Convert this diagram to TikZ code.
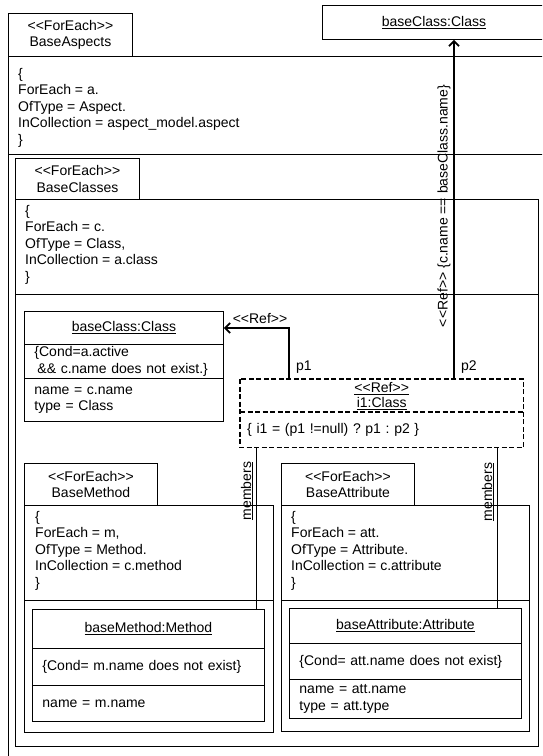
\documentclass[tikz,border=0pt]{standalone}
\usepackage{fontspec}
\setmainfont{Liberation Sans}
\usetikzlibrary{arrows.meta}
% guillemets are avoided: the kern keeps the two angle brackets apart
\newcommand\stereo[1]{<\kern0pt<#1>\kern0pt>}
\frenchspacing

\begin{document}
\begin{tikzpicture}[x=1pt,y=-1pt,
  txt/.style={font=\fontsize{14}{16.5}\selectfont, inner sep=0pt},
  box/.style={draw, line width=0.9pt, rectangle, inner sep=0pt, anchor=north west, txt},
  hdr/.style={box, align=center},
  cmp/.style={box, align=left, inner xsep=10pt},
  blk/.style={txt, align=left, anchor=north west},
  slot/.style={rectangle, inner sep=0pt, anchor=north west, txt},
  dline/.style={line width=1.8pt, dash pattern=on 5pt off 2.5pt},
  refarrow/.style={line width=1.8pt, -{Straight Barb[length=5pt,width=10pt]}},
  link/.style={line width=0.9pt},
  frame/.style={line width=0.9pt},
]
\useasboundingbox (0,0) rectangle (542,756);
\begin{scope}
\clip (0,0) rectangle (542,756);

% outer ForEach frame: BaseAspects
\node[hdr, minimum width=124pt, minimum height=43pt] (aspTab) at (8,13) {\stereo{ForEach}\\BaseAspects};
\draw[frame] (8,56) rectangle (600,800);
\draw[frame] (8,154) -- (600,154);
\node[blk] (aspText) at (18,68) {\{\\ForEach = a.\\OfType = Aspect.\\InCollection = aspect\_model.aspect\\\}};

% BaseClasses
\node[hdr, minimum width=124pt, minimum height=41pt] (clsTab) at (15,158) {\stereo{ForEach}\\BaseClasses};
\draw[frame] (15,199) rectangle (538,746);
\draw[frame] (15,294) -- (538,294);
\node[blk] (clsText) at (25,205) {\{\\ForEach = c.\\OfType = Class,\\InCollection = a.class\\\}};

% baseClass:Class object
\node[hdr, minimum width=199pt, minimum height=33pt] (bcHead) at (24,311) {\underline{baseClass:Class}};
\node[cmp, text width=179pt, minimum height=34pt] (bcCond) at (24,344) {\{Cond=a.active\\\hspace*{3pt}\&\& c.name does not exist.\}};
\node[cmp, text width=179pt, minimum height=43pt] (bcAttr) at (24,378) {name = c.name\\type = Class};

% i1 reference object (dashed outline)
\node[slot, align=center, minimum width=283pt, minimum height=33pt, font=\fontsize{14}{15}\selectfont] (i1Head) at (240,379) {\underline{\stereo{Ref}}\\\underline{i1:Class}};
\node[slot, align=left, inner xsep=7pt, text width=269pt, minimum height=35pt] (i1Body) at (240,412) {\{ i1 = (p1 !=null) ? p1 : p2 \}};
\draw[dline] (i1Head.north west) rectangle (i1Body.south east);
\draw[dline] (i1Body.north west) -- (i1Body.north east);

% BaseMethod
\node[hdr, minimum width=133pt, minimum height=42pt] (mTab) at (24,463) {\stereo{ForEach}\\BaseMethod};
\draw[frame] (24,505) rectangle (273,732);
\draw[frame] (24,600) -- (273,600);
\node[blk] (mText) at (35,511) {\{\\ForEach = m,\\OfType = Method.\\InCollection = c.method\\\}};
\node[hdr, minimum width=232pt, minimum height=39pt] (mHead) at (32,609) {\underline{baseMethod:Method}};
\node[cmp, text width=212pt, minimum height=37pt] (mCond) at (32,648) {\{Cond= m.name does not exist\}};
\node[cmp, text width=212pt, minimum height=36pt] (mAttr) at (32,685) {name = m.name};

% BaseAttribute
\node[hdr, minimum width=133pt, minimum height=42pt] (aTab) at (281,463) {\stereo{ForEach}\\BaseAttribute};
\draw[frame] (281,505) rectangle (529,731);
\draw[frame] (281,600) -- (529,600);
\node[blk] (aText) at (291,511) {\{\\ForEach = att.\\OfType = Attribute.\\InCollection = c.attribute\\\}};
\node[hdr, minimum width=232pt, minimum height=35pt] (aHead) at (289,608) {\underline{baseAttribute:Attribute}};
\node[cmp, text width=212pt, minimum height=36pt] (aCond) at (289,643) {\{Cond= att.name does not exist\}};
\node[cmp, text width=212pt, minimum height=39pt] (aAttr) at (289,679) {name = att.name\\type = att.type};

% target baseClass:Class
\node[hdr, minimum width=223pt, minimum height=34pt] (topCls) at (322,5) {\underline{baseClass:Class}};

% reference connectors
\coordinate (p1Foot) at (289,379);
\coordinate (p2Foot) at (454,379);
\draw[refarrow] (p1Foot) |- (bcHead.east);
\draw[refarrow] (p2Foot) -- (p2Foot |- topCls.south);
\node[txt, anchor=base] (p1Ref) at (260,323) {\stereo{Ref}};
\node[txt, anchor=base west] (p1Lbl) at (296,370) {p1};
\node[txt, anchor=base west] (p2Lbl) at (461,370) {p2};
\node[txt, rotate=90] (p2Ref) at (444,206) {\stereo{Ref} \{c.name == baseClass.name\}};

% members links
\coordinate (m1) at (256,447);
\coordinate (m2) at (497,447);
\draw[link] (m1) -- (m1 |- mHead.north);
\draw[link] (m2) -- (m2 |- aHead.north);
\node[txt, rotate=90] (m1Lbl) at (247,491) {\underline{members}};
\node[txt, rotate=90] (m2Lbl) at (488,492) {\underline{members}};
\end{scope}
\end{tikzpicture}
\end{document}
